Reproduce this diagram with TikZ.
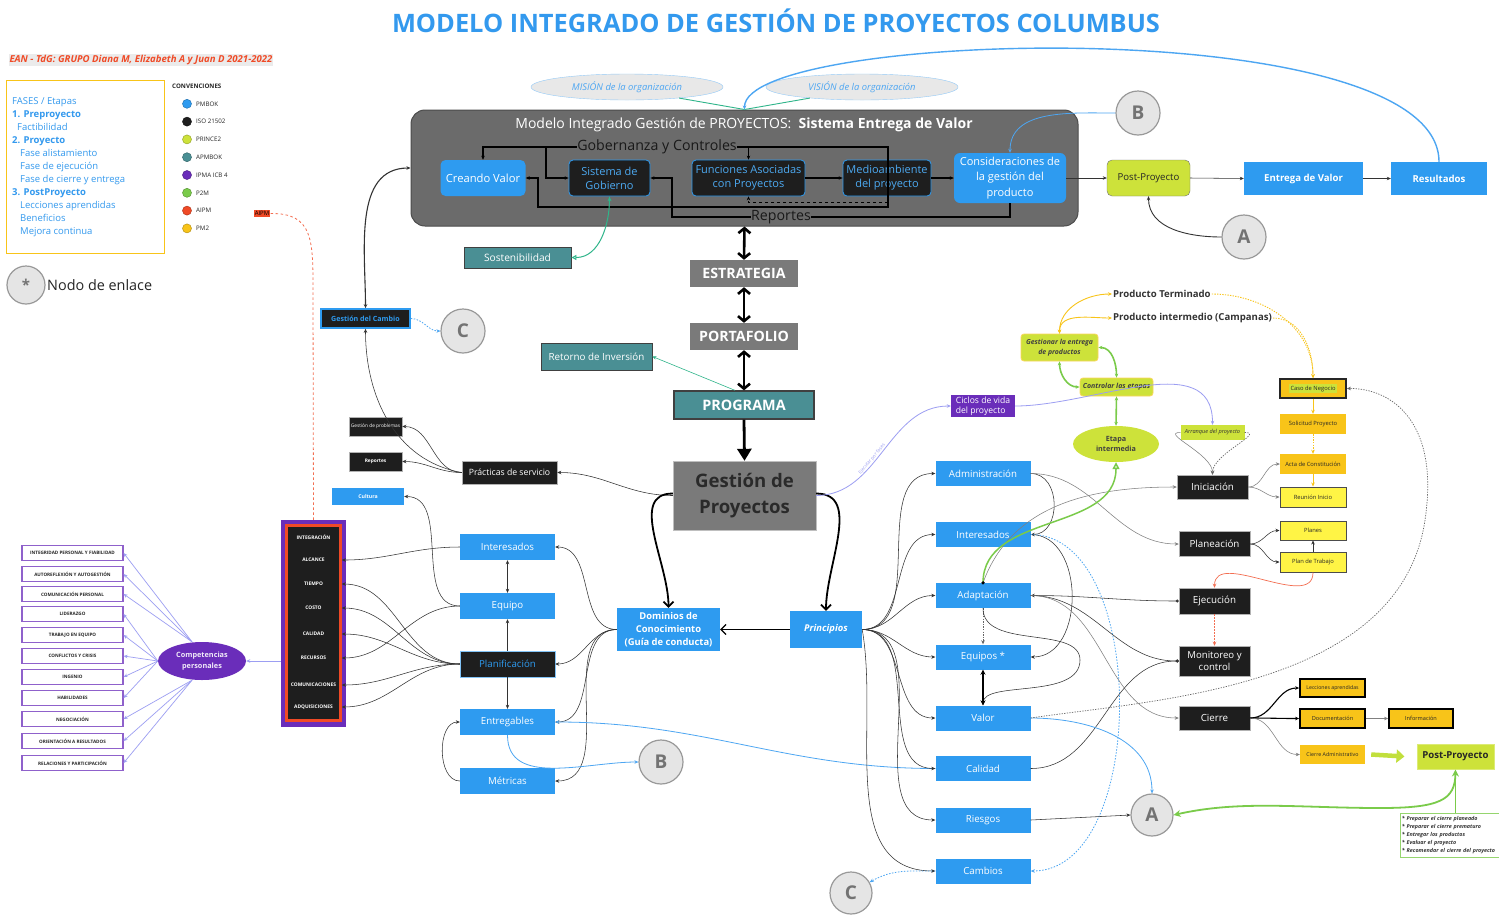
\documentclass[tikz,border=0pt]{standalone}
\usepackage{fontspec}
\setmainfont{Open Sans}
\usetikzlibrary{arrows.meta,shapes.geometric,calc}
\newcommand\fsz[2]{\fontsize{#1}{#2}\selectfont}
\definecolor{cBlue}{HTML}{2E9BF0}
\definecolor{cTitle}{HTML}{3399EE}
\definecolor{cBlk}{HTML}{1E1E1E}
\definecolor{cGray}{HTML}{7A7A7A}
\definecolor{cBig}{HTML}{6B6B6B}
\definecolor{cTeal}{HTML}{4A8F94}
\definecolor{cLime}{HTML}{CDE23A}
\definecolor{cYel}{HTML}{F8C419}
\definecolor{cLYel}{HTML}{FFF445}
\definecolor{cPurp}{HTML}{6A2DBA}
\definecolor{cGreen}{HTML}{7ACB4A}
\definecolor{cRed}{HTML}{F04A26}
\definecolor{cLav}{HTML}{9C9EF2}
\definecolor{cCirc}{HTML}{E5E5E5}
\definecolor{cLine}{HTML}{333333}
\definecolor{cLtBlue}{HTML}{4DA6F2}
\definecolor{cSea}{HTML}{2FB58A}
\definecolor{cDark}{HTML}{2A2A2A}
\begin{document}
\begin{tikzpicture}[x=1pt,y=-1pt,
  every node/.style={inner sep=1pt, align=center},
  sz/.style 2 args={minimum width=#1, minimum height=#2},
  bbox/.style={fill=cBlue, text=white, font=\fsz{9.7}{11}},
  kbox/.style={fill=cBlk, text=white, draw=gray!60, line width=0.5, font=\fsz{9.8}{11}},
  kin/.style={fill=cBlk, draw=cBlue, line width=0.8, text=cBlue!85!white, rounded corners=4, font=\fsz{11}{14}},
  tbox/.style={fill=cTeal, text=white, draw=black!75, line width=0.8},
  gbox/.style={fill=cGray, text=white, font=\fsz{14.2}{16}\bfseries},
  ybox/.style={fill=cYel, text=black!85, font=\fsz{5.8}{7}, sz={66}{20}},
  lybox/.style={fill=cLYel, text=black!85, draw=black!70, line width=1, font=\fsz{5.8}{7}, sz={66}{20}},
  kybox/.style={fill=cYel, text=black!85, draw=black, line width=1.8, font=\fsz{5.6}{7}, sz={65}{19}},
  link/.style={circle, fill=cCirc, draw=black!40, line width=1.2, text=black!55, font=\fsz{19}{20}\bfseries, minimum size=44},
  kcomp/.style={fill=white, draw=cPurp!75, line width=1.2, sz={101}{15}, font=\fsz{4.6}{5.5}\bfseries, text=black!85},
  ln/.style={draw=cLine, line width=0.55},
  gln/.style={draw=black!50, line width=0.55},
  thk/.style={draw=black, line width=1.1},
  bln/.style={draw=cLtBlue, line width=0.8},
  bdot/.style={draw=cLtBlue, line width=0.8, dash pattern=on 1.5pt off 1.5pt},
  gdot/.style={draw=black!60, line width=0.7, dash pattern=on 1.3pt off 1.3pt},
  gr/.style={draw=cGreen, line width=1.6},
  yl/.style={draw=cYel, line width=0.9},
  yldot/.style={draw=cYel, line width=0.9, dash pattern=on 1.3pt off 1.3pt},
  lav/.style={draw=cLav, line width=0.7},
  arr/.style={-{Stealth[length=4pt,width=3.5pt]}},
  barr/.style={{Stealth[length=4pt,width=3.5pt]}-{Stealth[length=4pt,width=3.5pt]}},
  dbl/.style={draw=black, line width=2.6, {Straight Barb[length=5pt,width=12pt]}-{Straight Barb[length=5pt,width=12pt]}}
]
\fill[white] (0,0) rectangle (1499,914);
\useasboundingbox (0,0) rectangle (1499,914);

% ---------- headings ----------
\node[text=cTitle, font=\fsz{25.4}{28}\bfseries] (title) at (776,21) {MODELO INTEGRADO DE GESTIÓN DE PROYECTOS COLUMBUS};
\node[fill=black!8, text=cRed, font=\fsz{9.6}{11}\bfseries\itshape] (sub) at (141,60) {EAN - TdG: GRUPO Diana M, Elizabeth A y Juan D 2021-2022};

% ---------- phases legend ----------
\node[draw=cYel, line width=1.3, sz={158}{173}, anchor=north west] (leg) at (6,80) {};
\node[anchor=north west, align=left, text=cTitle, font=\fsz{9.5}{13}] (legtxt) at (11,96) {FASES / Etapas\\
\textbf{1. Preproyecto}\\
\hspace*{5pt}Factibilidad\\
\textbf{2. Proyecto}\\
\hspace*{8pt}Fase alistamiento\\
\hspace*{8pt}Fase de ejecución\\
\hspace*{8pt}Fase de cierre y entrega\\
\textbf{3. PostProyecto}\\
\hspace*{8pt}Lecciones aprendidas\\
\hspace*{8pt}Beneficios\\
\hspace*{8pt}Mejora continua};

\node[anchor=west, font=\fsz{6.2}{7}\bfseries, text=black!85] (conv) at (171,86) {CONVENCIONES};
\foreach \c/\t [count=\i] in {cBlue/PMBOK, cBlk/ISO 21502, cLime/PRINCE2, cTeal/APMBOK, cPurp/IPMA ICB 4, cGreen/P2M, cRed/AIPM, cYel/PM2}{
  \node[circle, fill=\c, draw=\c!75!black, line width=0.5, minimum size=9, inner sep=0] (dot\i) at (187,86+17.8*\i) {};
  \node[anchor=west, font=\fsz{6.2}{7}, text=black!85] (dlab\i) at (195,86+17.8*\i) {\t};
}
\node[fill=cRed, text=black, font=\fsz{6}{7}, inner sep=1.2pt] (aipm) at (262,213.5) {AIPM};

\node[link, minimum size=38, font=\fsz{15}{16}\bfseries] (nodo) at (26,285) {*};
\node[anchor=west, font=\fsz{14.4}{16}, text=black!85] (nodotxt) at (46,285) {Nodo de enlace};

% ---------- value delivery system ----------
\node[ellipse, draw=cLtBlue!60, fill=black!9, sz={192}{26}, text=cLtBlue, font=\fsz{9.4}{10}\itshape] (mis) at (627,87) {MISIÓN de la organización};
\node[ellipse, draw=cLtBlue!60, fill=black!9, sz={192}{26}, text=cLtBlue, font=\fsz{9.4}{10}\itshape] (vis) at (862,87) {VISIÓN de la organización};

\node[draw=black!70, fill=cBig, rounded corners=14, sz={667}{116}, line width=1] (mig) at (744.5,168) {};
\node[text=white, font=\fsz{14}{16}] (migt) at (744,125) {Modelo Integrado Gestión de PROYECTOS:\ \ \textbf{Sistema Entrega de Valor}};
\node[bbox, rounded corners=5, sz={85}{36}, font=\fsz{11.2}{13}] (cv) at (483,178) {Creando Valor};
\node[kin, sz={81}{36}] (sg) at (609.5,178) {Sistema de\\Gobierno};
\node[kin, sz={113}{36}] (fa) at (748.5,178) {Funciones Asociadas\\con Proyectos};
\node[kin, sz={88}{36}] (ma) at (887,178) {Medioambiente\\del proyecto};
\node[bbox, rounded corners=6, sz={112}{50}, font=\fsz{11}{15.5}] (cg) at (1010,178) {Consideraciones de\\la gestión del\\producto};
\node[font=\fsz{14.2}{16}, text=black!90, inner sep=0.5pt] (gob) at (657,147) {Gobernanza y Controles};
\node[font=\fsz{14.2}{16}, text=black!90, inner sep=0.5pt] (rep) at (781,217) {Reportes};

\node[link] (B1) at (1138,113) {B};
\node[link] (A1) at (1244,237) {A};
\node[fill=cLime, draw=black!55, rounded corners=5, sz={83}{36}, font=\fsz{9.6}{11}, text=black!85] (pp1) at (1148.5,178) {Post-Proyecto};
\node[bbox, sz={119}{33}, font=\fsz{9.6}{11}\bfseries] (ev) at (1303.5,178.5) {Entrega de Valor};
\node[bbox, sz={96}{33}, font=\fsz{9.6}{11}\bfseries] (res) at (1439,178.5) {Resultados};

\node[tbox, sz={107}{21}, font=\fsz{10.2}{11}] (sost) at (517.5,257.5) {Sostenibilidad};

% ---------- central spine ----------
\node[gbox, sz={108}{27}] (estr) at (744,273.5) {ESTRATEGIA};
\node[gbox, sz={108}{27}] (port) at (744,336.5) {PORTAFOLIO};
\node[tbox, line width=1.3, sz={140}{28}, font=\fsz{14.4}{16}\bfseries] (prog) at (744,405) {PROGRAMA};
\node[tbox, sz={111}{27}, font=\fsz{9.8}{11}] (roi) at (596.5,356.5) {Retorno de Inversión};
\node[fill=cGray, draw=black!25, sz={143}{69}, text=cDark, font=\fsz{18.6}{26}\bfseries] (gp) at (744.5,495.5) {Gestión de\\Proyectos};

\node[kbox, sz={95}{23}, font=\fsz{8.7}{10}] (prac) at (509.5,472.5) {Prácticas de servicio};
\node[kbox, sz={53}{19}, font=\fsz{4.8}{6}] (gprob) at (375.5,426.5) {Gestión de problemas};
\node[kbox, sz={53}{19}, font=\fsz{4.8}{6}\bfseries] (repo) at (375.5,461.5) {Reportes};
\node[fill=cBlk, draw=cBlue, line width=1.6, text=cBlue, sz={89}{19}, font=\fsz{7.1}{8}\bfseries] (gc) at (365.5,318.5) {Gestión del Cambio};
\node[link] (C1) at (463,331) {C};
\node[bbox, sz={72}{17}, font=\fsz{5.2}{6}\bfseries] (cult) at (368,496.5) {Cultura};

% ---------- knowledge domains ----------
\node[bbox, sz={95}{26}] (intL) at (507.5,547) {Interesados};
\node[bbox, sz={95}{26}] (eqL) at (507.5,606) {Equipo};
\node[fill=cBlk, draw=cBlue!60, line width=0.5, text=cBlue, sz={95}{26}, font=\fsz{9.7}{11}] (plan) at (507.5,664) {Planificación};
\node[bbox, sz={95}{26}] (ent) at (507.5,722) {Entregables};
\node[bbox, sz={95}{26}] (met) at (507.5,781) {Métricas};
\node[link] (B2) at (661,762) {B};
\node[bbox, sz={103}{43}, font=\fsz{9.4}{13}\bfseries] (dom) at (668.5,629.5) {Dominios de\\Conocimiento\\(Guía de conducta)};
\node[bbox, sz={72}{37}, font=\fsz{9.4}{11}\bfseries\itshape] (pr) at (826,629.5) {Principios};

% ---------- principles ----------
\node[fill=cPurp, text=white, sz={64}{22}, align=left, font=\fsz{8.6}{10}, inner sep=0.5pt] (cic) at (983,406) {Ciclos de vida\\del proyecto};
\node[bbox, sz={95}{25}] (adm) at (983,473.5) {Administración};
\node[bbox, sz={95}{25}] (intR) at (983,534.5) {Interesados};
\node[bbox, sz={95}{25}] (adap) at (983,595.5) {Adaptación};
\node[bbox, sz={95}{25}] (eqR) at (983,657) {Equipos *};
\node[bbox, sz={95}{25}] (val) at (983,718) {Valor};
\node[bbox, sz={95}{25}] (cal) at (983,768.5) {Calidad};
\node[bbox, sz={95}{25}] (rie) at (983,820) {Riesgos};
\node[bbox, sz={95}{25}] (camb) at (983,871) {Cambios};
\node[link, minimum size=42] (A2) at (1152,815) {A};
\node[link, minimum size=42] (C2) at (851,893) {C};

% ---------- life cycle ----------
\node[kbox, sz={71}{24}] (ini) at (1212.5,487) {Iniciación};
\node[kbox, sz={71}{25}] (pla) at (1214.5,544) {Planeación};
\node[kbox, sz={71}{26}] (eje) at (1214.5,601) {Ejecución};
\node[kbox, sz={71}{30}, font=\fsz{9.6}{12}] (mon) at (1214.5,661) {Monitoreo y\\control};
\node[kbox, sz={71}{24}] (cie) at (1214.5,718) {Cierre};
\node[fill=cLime, sz={64}{15}, font=\fsz{5.6}{6}\itshape, text=black!80, inner sep=0.3pt] (arr) at (1212.5,432.5) {Arranque del proyecto};
\node[ellipse, fill=cLime, sz={86}{36}, font=\fsz{7.2}{10}\bfseries, text=black!75, inner sep=0pt] (etapa) at (1116,444) {Etapa\\intermedia};
\node[fill=cLime, draw=cYel!70, line width=0.8, rounded corners=3, sz={73}{18}, font=\fsz{7}{8}\bfseries\itshape, text=black!75, inner sep=0.3pt] (ctrl) at (1116.5,387) {Controlar las etapas};
\node[fill=cLime, draw=cYel!70, line width=0.8, rounded corners=3, sz={77}{27}, font=\fsz{6.9}{10}\bfseries\itshape, text=black!75, inner sep=0.3pt] (gest) at (1059.5,347.5) {Gestionar la entrega\\de productos};
\node[anchor=west, font=\fsz{9.6}{11}\bfseries, text=black!80] (ptx) at (1112,294) {Producto Terminado};
\node[anchor=west, font=\fsz{9.6}{11}\bfseries, text=black!80] (pix) at (1112,318) {Producto intermedio (Campanas)};

\node[ybox, draw=black!85, line width=1.8, sz={66}{19}] (caso) at (1313,388.5) {{\setlength\fboxsep{1.5pt}\colorbox{cLime}{Caso de Negocio}}};
\node[ybox] (sol) at (1313,424) {Solicitud Proyecto};
\node[ybox] (acta) at (1313,464) {Acta de Constitución};
\node[lybox] (reun) at (1313,497) {Reunión Inicio};
\node[lybox, sz={66}{19}] (planes) at (1313,530.5) {Planes};
\node[lybox] (ptrab) at (1313,562) {Plan de Trabajo};
\node[kybox, sz={65}{18}, font=\fsz{5.2}{6}] (lecc) at (1332.5,688) {Lecciones aprendidas};
\node[kybox] (doc) at (1332.5,718.5) {Documentación};
\node[kybox, sz={64}{19}] (info) at (1421,718.5) {Información};
\node[ybox, sz={65}{19}, font=\fsz{5.3}{6}] (cadm) at (1332.5,754.5) {Cierre Administrativo};
\node[fill=cLime, draw=cLime!70!white, line width=1, sz={77}{25}, font=\fsz{9.6}{11}\bfseries, text=black!85] (pp2) at (1455.5,756.5) {Post-Proyecto};
\node[anchor=north west, draw=cGreen!80, line width=0.8, sz={99}{44}, align=left, text width=96, inner sep=1.5pt, font=\fsz{5.4}{8}\bfseries\itshape, text=black!80] (notes) at (1400,813) {{*} Preparar el cierre planeado\\{*} Preparar el cierre prematuro\\{*} Entregar los productos\\{*} Evaluar el proyecto\\{*} Recomendar el cierre del proyecto};

% ---------- knowledge areas and competences ----------
\node[fill=cPurp, sz={65}{207}] (vb) at (313.5,623.5) {};
\node[fill=cBlk, draw=cRed, line width=2.5, sz={54}{195}] (vbi) at (313.5,623) {};
\foreach \y/\t [count=\i] in {537/INTEGRACIÓN, 560/ALCANCE, 584/TIEMPO, 608/COSTO, 634/CALIDAD, 658/RECURSOS, 685/COMUNICACIONES, 707/ADQUISICIONES}
  \node[text=white, font=\fsz{4.9}{6}\bfseries, inner sep=0pt] (l\i) at (313.5,\y) {\t};
\node[ellipse, fill=cPurp, sz={88}{38}, text=white!90!cPurp, font=\fsz{7.3}{10.5}\bfseries, inner sep=0pt] (comp) at (202,661) {Competencias\\personales};
\foreach \y/\t [count=\i] in {553/INTEGRIDAD PERSONAL Y FIABILIDAD, 574/AUTOREFLEXIÓN Y AUTOGESTIÓN, 594/COMUNICACIÓN PERSONAL, 614/LIDERAZGO, 635/TRABAJO EN EQUIPO, 656/CONFLICTOS Y CRISIS, 677/INGENIO, 698/HABILIDADES, 719/NEGOCIACIÓN, 741/ORIENTACIÓN A RESULTADOS, 763/RELACIONES Y PARTICIPACIÓN}
  \node[kcomp] (k\i) at (72.5,\y) {\t};

% ================= connectors =================
% mission / vision / results feeding the model
\draw[draw=cSea, line width=0.9] (mis.-12) -- (mig.north);
\draw[draw=cSea, line width=0.9] (vis.192) -- (mig.north);
\draw[bln, line width=1.4, arr] (res.north) .. controls (1439,10) and (744,30) .. (mig.north);

% inside the value delivery system
\draw[thk, arr] (gob.west) -| (cv.north);
\draw[thk, arr] (546,147) |- (sg.west);
\draw[thk, arr] (gob.east) -| (fa.north);
\draw[thk, arr] (fa.north |- gob.east) -- (888,147) -- (888,207) -- (538,207) |- (cv.east);
\draw[thk, dashed, line width=0.7, arr] (888,202) -| (fa.south);
\draw[thk, arr] (fa.east) -- (ma.west);
\draw[thk, arr] (ma.east) -- (cg.west);
\draw[thk] (cg.south) |- (rep.east);
\draw[thk, arr] (rep.west) -- (672,217) -- (672,178) -- (sg.east);
\draw[bln, arr] (B1.west) to[out=180,in=90] (cg.north);
\draw[ln, arr] (cg.east) -- (pp1.west);
\draw[ln, arr] (pp1.east) -- (ev.west);
\draw[ln, arr] (ev.east) -- (res.west);
\draw[ln, line width=0.9, arr] (A1.west) to[out=180,in=-90] (pp1.south);
\draw[ln, line width=1.1, barr] (mig.west) to[out=180,in=90] (gc.north);
\draw[draw=cSea, line width=1, {Triangle[open,length=5pt,width=5pt]}-{Stealth[length=5pt,width=4pt]}] (sost.east) to[out=0,in=-90] (sg.south);

% strategy spine
\draw[dbl] (mig.south) -- (estr.north);
\draw[dbl] (estr.south) -- (port.north);
\draw[dbl] (port.south) -- (prog.north);
\draw[draw=cSea, line width=0.6, arr] ([xshift=-9pt]prog.north) -- (roi.east);
\draw[draw=black, line width=2.8, -{Triangle[length=12pt,width=14pt]}] (prog.south) -- (gp.north);

% service practices
\draw[ln, arr] (gp.west) to[out=180,in=0] (prac.east);
\draw[ln, arr] (prac.west) to[out=180,in=0] (gprob.east);
\draw[ln, arr] (prac.west) to[out=180,in=0] (repo.east);
\draw[ln, arr] (prac.west) to[out=170,in=-90] (gc.south);
\draw[bdot, arr] (gc.east) to[out=0,in=180] (C1.west);

% project management to domains and principles
\draw[draw=black, line width=1.8, -{Straight Barb[length=5pt,width=10pt]}] ([yshift=2pt]gp.west) to[out=180,in=90] (dom.north);
\draw[draw=black, line width=1.8, -{Straight Barb[length=5pt,width=10pt]}] ([yshift=2pt]gp.east) to[out=0,in=90] (pr.north);
\draw[draw=black, line width=1.2, -{Straight Barb[length=5pt,width=10pt]}] (pr.west) -- (dom.east);
\draw[draw=cLav, line width=0.8, arr] (gp.east) to[out=0,in=180] node[sloped, above, pos=0.42, font=\fsz{4.6}{5}, text=cLav] {Ejecutar por fases} (cic.west);
\draw[draw=cLav, line width=0.8, arr] (cic.east) to[out=0,in=90] (arr.north);

% domains
\draw[ln, barr] (intL.south) -- (eqL.north);
\draw[ln, arr] (plan.north) -- (eqL.south);
\draw[ln, arr] (plan.south) -- (ent.north);
\foreach \n in {intL,plan,ent,met} \draw[ln, arr] (dom.west) to[out=180,in=0] (\n.east);
\draw[ln, arr] (met.west) to[out=180,in=180] (ent.west);
\draw[ln, arr] (eqL.west) to[out=180,in=0] (cult.east);
\draw[bln, arr] (ent.south) to[out=-90,in=180] (B2.west);
\draw[bln, arr] (cal.west) to[out=180,in=0] (ent.east);
\draw[ln, arr] (intL.west) to[out=180,in=0] (vbi.east |- l2);
\draw[ln, arr] (eqL.west) to[out=180,in=0] (vbi.east |- l6);
\foreach \k in {3,4,5,7,8} \draw[ln, arr] (plan.west) to[out=180,in=0] (vbi.east |- l\k);
\draw[draw=cRed!80, line width=0.8, dash pattern=on 2.5pt off 2.5pt] (aipm.east) .. controls (313,213) and (313,240) .. (313,290) -- (vb.north);

% competences
\draw[lav, arr] (vb.west |- comp.east) -- (comp.east);
\foreach \k in {1,2,3} \draw[lav, arr] ([xshift=-10pt]comp.north) -- (k\k.east);
\foreach \k in {4,5,6,7,8} \draw[lav, arr] (comp.west) -- (k\k.east);
\foreach \k in {9,10,11} \draw[lav, arr] ([xshift=-10pt]comp.south) -- (k\k.east);

% principles
\foreach \n in {adm,intR,adap,eqR,val,cal,rie} \draw[ln, arr] (pr.east) to[out=0,in=180] (\n.west);
\draw[ln, arr] (pr.east) to[out=-80,in=180] (camb.west);
\draw[ln, arr] (adm.east) to[out=0,in=0,looseness=1.3] (intR.east);
\draw[gln, arr] (adm.east) to[out=0,in=180] (pla.west);
\draw[ln, arr] (intR.east) to[out=0,in=0,looseness=1.15] (eqR.east);
\draw[bdot, arr] (intR.east) to[out=0,in=0,looseness=0.9] (camb.east);
\draw[ln, {Stealth[length=4pt,width=3.5pt]}-{Circle[length=3pt]}] (adap.east) to[out=0,in=180] (eje.west);
\draw[ln, -{Circle[length=3pt]}] (adap.east) to[out=0,in=180] (mon.west);
\draw[gln, arr] (adap.east) to[out=0,in=180] (cie.west);
\draw[ln, -{Circle[length=3pt]}] (cal.east) to[out=0,in=180] (mon.west);
\draw[gln, arr] (adap.north) to[out=70,in=180] (ini.west);
\draw[gr, line width=1.5, -{Triangle[open,length=7pt,width=7pt]}] (adap.north) to[out=90,in=-90] (etapa.south);
\fill[black] (adap.north) circle (1.8);
\draw[gdot, arr] (adap.south) -- (eqR.north);
\draw[ln, arr] (adap.south) .. controls (983,650) and (1080,625) .. (1080,660) .. controls (1080,700) and (983,680) .. (val.north);
\draw[draw=black, line width=1.3, {Stealth[length=5pt,width=5pt]}-{Stealth[length=5pt,width=5pt]}] (eqR.south) -- (val.north);
\draw[bln, arr] (val.east) to[out=0,in=90] (A2.north);
\draw[ln, arr] (rie.east) -- (A2.west);
\draw[bdot, arr] (camb.west) to[out=180,in=30] (C2.30);
\draw[gdot, arr] (val.east) .. controls (1150,700) and (1400,690) .. (1425,520) .. controls (1440,420) and (1390,388) .. (caso.east);

% project life cycle
\draw[gln, arr] (arr.west) to[out=180,in=90] (ini.north);
\draw[gdot, arr] (arr.east) to[out=0,in=90] (ini.north);
\draw[gln, arr] (ini.east) to[out=0,in=180] (acta.west);
\draw[gln, arr] (ini.east) to[out=0,in=180] (reun.west);
\draw[ln, arr] (pla.east) to[out=0,in=180] (planes.west);
\draw[ln, arr] (pla.east) to[out=0,in=180] (ptrab.west);
\draw[ln, arr] (ptrab.north) -- (planes.south);
\draw[draw=cRed!80, line width=0.7, arr] (ptrab.south) to[out=-90,in=90] (eje.north);
\draw[draw=cRed!80, line width=0.7, dash pattern=on 1.5pt off 1.5pt, arr] (eje.south) -- (mon.north);
\draw[draw=cYel, line width=1, arr] (caso.south) -- (sol.north);
\draw[yldot, arr] (sol.south) -- (acta.north);
\draw[draw=cYel, line width=1, arr] (acta.south) -- (reun.north);
\draw[thk, arr] (cie.east) to[out=0,in=180] (lecc.west);
\draw[thk, arr] (cie.east) to[out=0,in=180] (doc.west);
\draw[gln, arr] (cie.east) to[out=0,in=180] (cadm.west);
\draw[gln, arr] (doc.east) -- (info.west);
\draw[draw=cLime!85!cGreen, line width=4.5, -{Triangle[length=8pt,width=13pt]}] ([xshift=6pt]cadm.east) -- ([xshift=-12pt]pp2.west);
\draw[gr, line width=1.8, {Stealth[length=7pt,width=7pt]}-{Stealth[length=7pt,width=7pt]}] (pp2.south) .. controls (1455,800) and (1440,808) .. (1380,808) .. controls (1300,808) and (1240,800) .. (A2.east);
\draw[draw=cGreen, line width=0.6] (pp2.south) -- (pp2.south |- notes.north);

% product delivery (PRINCE2)
\draw[gr, barr] (ctrl.south) -- (etapa.north);
\draw[gr, barr] (gest.east) to[out=0,in=90] (ctrl.north);
\draw[gr, barr] (gest.south) to[out=-90,in=180] (ctrl.west);
\draw[yl, barr] (gest.north) to[out=90,in=180] (ptx.west);
\draw[yl, barr] (gest.north) to[out=90,in=180] (pix.west);
\draw[yldot, arr] (ptx.east) to[out=0,in=90] (caso.north);
\draw[yldot, arr] (pix.east) to[out=0,in=90] (caso.north);
\end{tikzpicture}
\end{document}
